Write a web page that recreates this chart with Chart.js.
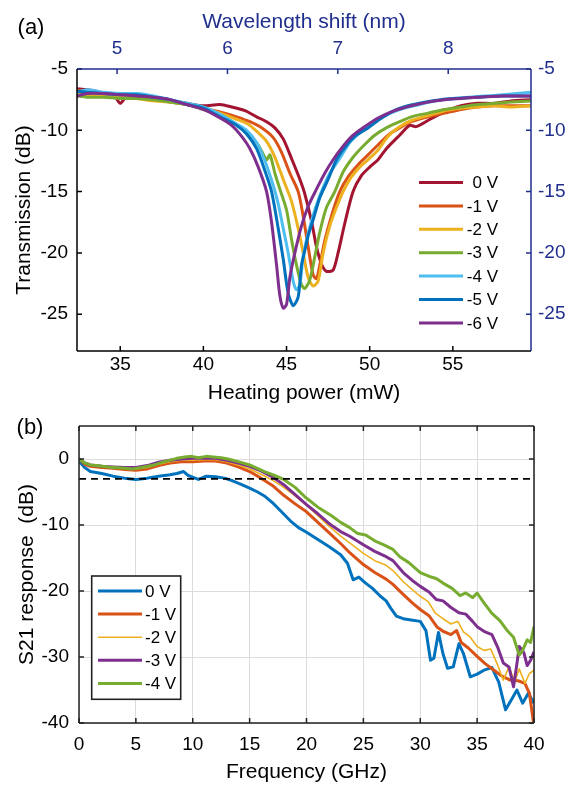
<!DOCTYPE html>
<html>
<head>
<meta charset="utf-8">
<script src="https://cdn.jsdelivr.net/npm/chart.js@4.4.1/dist/chart.umd.min.js"></script>
<style>
html, body { margin: 0; padding: 0; background: #fff; }
#wrap { position: relative; width: 578px; height: 786px; overflow: hidden; }
canvas { position: absolute; left: 0; }
#chartA { top: 0; }
#chartB { top: 400px; }
</style>
</head>
<body>
<div id="wrap">
<canvas id="chartA" width="578" height="410"></canvas>
<canvas id="chartB" width="578" height="386"></canvas>
</div>
<script>
// ---- panel (a): transmission vs heating power ----
const powerTicks = [35, 40, 45, 50, 55];
const shiftTicks = [5, 6, 7, 8];
const transTicks = [-5, -10, -15, -20, -25];
const biasA = ['0 V', '-1 V', '-2 V', '-3 V', '-4 V', '-5 V', '-6 V'];

// [heating power (mW), transmission (dB)]
const trans0V = [[32.4,-6.6],[33,-6.7],[33.5,-6.8],[34,-7.0],[34.6,-7.1],[35,-7.8],[35.4,-7.2],[36,-7.2],[37,-7.4],[38,-7.6],[39,-7.8],[40,-8.0],[41,-7.9],[41.7,-8.1],[42.5,-8.4],[43.2,-8.9],[43.8,-9.3],[44.3,-9.8],[44.8,-10.7],[45.3,-12.3],[45.8,-14.0],[46.1,-15.2],[46.5,-17.4],[46.8,-19.5],[47.1,-20.9],[47.4,-21.5],[47.8,-21.4],[48.1,-20.0],[48.5,-17.6],[49.0,-15.0],[49.5,-13.7],[50.0,-13.0],[50.5,-12.4],[51.0,-11.5],[51.5,-10.8],[51.8,-10.4],[52.4,-9.6],[52.8,-9.7],[53.5,-9.2],[54.5,-8.5],[55.5,-8.0],[56.5,-7.8],[57.5,-7.8],[58.5,-7.6],[59.7,-7.5]];
const trans1V = [[32.4,-6.7],[33,-6.9],[34,-7.2],[35,-7.3],[36,-7.3],[37,-7.5],[38,-7.7],[39,-7.9],[40,-8.2],[41,-8.5],[42,-8.9],[42.8,-9.3],[43.5,-9.8],[44.2,-10.6],[44.7,-11.8],[45.2,-13.5],[45.7,-15.0],[46.0,-17.0],[46.3,-19.5],[46.6,-21.8],[46.8,-22.1],[47.0,-21.0],[47.3,-19.0],[47.7,-17.0],[48.2,-15.0],[48.7,-13.8],[49.3,-12.8],[49.9,-12.0],[50.5,-11.2],[51.2,-10.3],[51.8,-9.8],[52.5,-9.3],[53.5,-8.9],[54.5,-8.6],[55.5,-8.3],[56.5,-8.1],[57.5,-8.0],[58.5,-8.0],[59.7,-8.0]];
const trans2V = [[32.4,-7.0],[33,-7.1],[34,-7.2],[35,-7.3],[36,-7.4],[37,-7.6],[38,-7.7],[39,-7.9],[40,-8.2],[41,-8.6],[42,-9.1],[42.7,-9.5],[43.3,-10.2],[43.8,-10.9],[44.3,-12.2],[44.8,-14.0],[45.3,-15.8],[45.7,-18.0],[46.0,-20.0],[46.3,-22.0],[46.6,-22.7],[46.9,-22.3],[47.2,-20.0],[47.6,-17.8],[48.0,-16.3],[48.4,-15.0],[48.9,-13.8],[49.4,-13.0],[49.9,-12.4],[50.5,-11.6],[51.1,-10.5],[51.7,-9.8],[52.5,-9.2],[53.5,-8.8],[54.5,-8.4],[55.5,-8.2],[56.5,-8.1],[57.5,-8.0],[58.5,-8.1],[59.7,-8.0]];
const trans3V = [[32.4,-7.2],[33,-7.3],[34,-7.3],[35,-7.4],[36,-7.4],[37,-7.5],[38,-7.7],[39,-7.9],[40,-8.3],[41,-8.8],[42,-9.5],[42.7,-10.3],[43.3,-11.2],[43.8,-12.4],[44.0,-12.0],[44.3,-13.5],[44.6,-14.8],[45.0,-16.5],[45.3,-18.9],[45.6,-21.0],[45.9,-22.6],[46.1,-22.9],[46.4,-22.2],[46.7,-20.3],[47.0,-18.3],[47.4,-16.3],[47.9,-15.0],[48.4,-13.4],[49.0,-12.2],[49.6,-11.3],[50.3,-10.4],[51.0,-9.8],[51.8,-9.3],[52.5,-8.9],[53.5,-8.6],[54.5,-8.3],[55.5,-8.1],[56.5,-7.9],[57.5,-7.8],[58.5,-7.7],[59.7,-7.6]];
const trans4V = [[32.4,-6.9],[33,-6.7],[34,-6.9],[35,-7.0],[36,-7.0],[37,-7.2],[38,-7.5],[39,-7.8],[40,-8.1],[41,-8.7],[42,-9.5],[42.6,-10.0],[43.2,-11.0],[43.7,-12.5],[44.2,-14.5],[44.5,-16.0],[44.8,-18.0],[45.1,-20.0],[45.4,-22.3],[45.6,-23.0],[45.8,-22.6],[46.0,-20.3],[46.3,-18.4],[46.7,-16.5],[47.1,-15.0],[47.6,-13.5],[48.2,-12.3],[48.8,-11.0],[49.4,-10.2],[50.0,-9.6],[50.8,-8.9],[51.8,-8.3],[53,-7.9],[54,-7.6],[55,-7.4],[56,-7.3],[57,-7.2],[58,-7.1],[59.7,-6.9]];
const trans5V = [[32.4,-6.8],[33,-6.9],[34,-7.0],[35,-7.1],[36,-7.1],[37,-7.3],[38,-7.5],[39,-7.9],[40,-8.2],[41,-8.9],[42,-9.6],[42.6,-10.3],[43.2,-11.5],[43.7,-13.3],[44.1,-15.0],[44.5,-18.0],[44.8,-20.5],[45.1,-23.3],[45.4,-24.3],[45.7,-23.6],[45.9,-21.0],[46.1,-19.8],[46.3,-18.6],[46.6,-17.3],[47.0,-15.5],[47.5,-14.0],[48.0,-12.4],[48.5,-11.4],[49.1,-10.5],[49.8,-9.9],[50.5,-9.2],[51.3,-8.5],[52.3,-8.0],[53.3,-7.7],[54.3,-7.5],[55.3,-7.4],[56.5,-7.3],[58,-7.2],[59.7,-7.2]];
const trans6V = [[32.4,-7.2],[33,-7.0],[34,-7.0],[35,-7.1],[36,-7.2],[37,-7.3],[38,-7.5],[39,-7.9],[40,-8.3],[41,-9.0],[41.7,-9.6],[42.3,-10.5],[42.8,-11.5],[43.3,-13.0],[43.8,-15.0],[44.1,-17.5],[44.4,-21.0],[44.6,-23.5],[44.8,-24.5],[45.0,-24.2],[45.2,-22.0],[45.5,-20.0],[45.9,-17.8],[46.3,-16.2],[46.8,-14.8],[47.3,-13.5],[47.8,-12.4],[48.4,-11.3],[49.0,-10.4],[49.7,-9.7],[50.5,-9.0],[51.5,-8.4],[52.5,-8.0],[53.5,-7.7],[54.5,-7.5],[55.5,-7.4],[56.5,-7.3],[58,-7.2],[59.7,-7.2]];
const seriesA = [trans0V, trans1V, trans2V, trans3V, trans4V, trans5V, trans6V];
const colorsA = ['#A2142F', '#D95319', '#EDB120', '#77AC30', '#4DBEEE', '#0072BD', '#7E2F8E'];

// ---- panel (b): S21 vs frequency ----
const freqTicks = [0, 5, 10, 15, 20, 25, 30, 35, 40];
const s21Ticks = [0, -10, -20, -30, -40];
const biasB = ['0 V', '-1 V', '-2 V', '-3 V', '-4 V'];
const thresholdDb = -3;

// [frequency (GHz), S21 (dB)]
const s21_0V = [[0,-0.3],[0.5,-1.3],[1,-1.9],[2,-2.2],[3,-2.6],[4,-2.9],[5,-3.1],[6,-2.9],[7,-2.6],[8,-2.4],[8.6,-2.2],[9.2,-1.9],[9.6,-2.5],[10.5,-3.1],[11.2,-2.6],[12,-2.7],[12.8,-2.9],[13.5,-3.3],[14.2,-3.8],[15,-4.4],[15.7,-5.0],[16.3,-5.6],[17,-6.6],[17.8,-8.0],[18.6,-9.4],[19.3,-10.4],[20,-11.1],[21,-12.2],[22,-13.3],[23,-14.5],[23.6,-15.8],[24.1,-18.3],[24.6,-17.9],[25.2,-18.8],[25.8,-19.6],[26.5,-20.8],[27,-21.5],[27.4,-22.6],[27.9,-23.8],[28.5,-24.2],[29.2,-24.4],[30,-24.6],[30.5,-26.0],[30.9,-30.5],[31.2,-30.2],[31.6,-26.3],[32,-29.5],[32.4,-31.7],[32.9,-31.5],[33.4,-28.0],[33.8,-29.5],[34.4,-33.0],[35,-32.6],[35.6,-32.0],[36.3,-31.6],[36.9,-33.8],[37.5,-38.0],[38,-36.5],[38.5,-35.0],[39,-37.0],[39.5,-35.5],[40,-37.0]];
const s21_1V = [[0,0],[0.5,-0.8],[1,-1.1],[2,-1.3],[3,-1.4],[4,-1.6],[5,-1.7],[6,-1.5],[7,-1.0],[8,-0.6],[9,-0.4],[10,-0.4],[11,-0.3],[12,-0.3],[13,-0.6],[14,-1.2],[15,-1.9],[16,-2.9],[17,-4.0],[18,-5.5],[19,-6.8],[20,-8.0],[21,-9.6],[22,-11.2],[23,-12.8],[23.8,-14.2],[25,-16.0],[26,-17.2],[27,-18.2],[27.6,-19.0],[28.5,-20.5],[29.3,-21.8],[30,-22.8],[30.8,-23.8],[31.5,-25.5],[32,-26.1],[32.7,-26.6],[33.2,-26.0],[33.6,-27.8],[34.2,-28.6],[35,-29.9],[35.7,-31.0],[36.4,-31.9],[37.1,-32.8],[37.9,-33.5],[38.6,-33.6],[39.2,-34.0],[39.6,-35.5],[40,-40.5]];
const s21_2V = [[0,0],[0.5,-0.7],[1,-1.0],[2,-1.2],[3,-1.3],[4,-1.4],[5,-1.5],[6,-1.3],[7,-0.8],[8,-0.4],[9,-0.2],[10,-0.2],[11,-0.1],[12,-0.1],[13,-0.4],[14,-0.9],[15,-1.5],[16,-2.3],[17,-3.2],[18,-4.3],[19,-5.6],[20,-7.0],[21,-8.6],[22,-10.2],[23,-11.7],[23.8,-12.7],[25,-14.3],[26,-15.4],[27,-16.1],[27.6,-16.9],[28.5,-18.6],[29.3,-19.8],[30,-20.8],[30.7,-21.6],[31.3,-23.3],[32,-24.2],[32.7,-25.0],[33.3,-24.6],[33.8,-26.2],[34.4,-27.0],[35,-28.4],[35.6,-29.0],[36.2,-28.8],[36.8,-31.2],[37.3,-33.5],[37.8,-31.5],[38.3,-33.8],[38.7,-31.8],[39.2,-34.0],[39.6,-32.5],[40,-32.0]];
const s21_3V = [[0,0],[0.5,-0.6],[1,-0.9],[2,-1.1],[3,-1.2],[4,-1.3],[5,-1.3],[6,-1.0],[7,-0.5],[8,-0.2],[9,0.0],[10,0.1],[11,0.1],[12,0.1],[13,-0.2],[14,-0.6],[15,-1.1],[16,-1.8],[17,-2.7],[18,-3.9],[19,-5.4],[20,-6.9],[21,-8.3],[22,-9.8],[23,-11.0],[23.8,-11.7],[25,-13.0],[26,-14.0],[27,-14.8],[27.6,-15.4],[28.5,-17.2],[29.3,-18.4],[30,-19.3],[30.8,-20.2],[31.4,-21.3],[32,-21.5],[32.7,-22.5],[33.4,-23.3],[34,-23.5],[34.6,-24.6],[35,-25.4],[35.7,-26.2],[36.3,-26.6],[36.8,-28.5],[37.3,-30.9],[37.8,-31.5],[38.2,-34.5],[38.5,-31.0],[38.7,-28.4],[39.1,-29.3],[39.4,-31.3],[39.7,-30.5],[40,-29.2]];
const s21_4V = [[0,0],[0.5,-0.6],[1,-0.9],[1.5,-1.0],[2.75,-1.25],[4,-1.4],[4.7,-1.5],[5.5,-1.3],[6.6,-0.9],[7.5,-0.4],[8.6,0.1],[9.3,0.3],[9.9,0.4],[10.5,0.2],[11.2,0.4],[11.8,0.3],[12.5,0.2],[13.1,0.0],[14,-0.4],[15,-0.9],[16.3,-1.9],[17.2,-2.5],[18,-3.1],[19,-4.3],[19.9,-5.8],[21,-7.3],[22.2,-8.6],[23,-9.6],[23.8,-10.4],[24.5,-11.3],[25.2,-11.5],[26,-12.4],[26.8,-13.0],[27.6,-13.7],[28.2,-14.8],[29,-15.7],[30,-17.2],[30.8,-17.8],[31.4,-18.1],[32,-18.8],[32.8,-19.6],[33.5,-20.7],[34,-20.3],[34.6,-21.0],[35,-20.3],[35.6,-21.8],[36.3,-23.4],[37,-24.5],[37.6,-25.9],[38.2,-27.0],[38.7,-29.7],[39,-29.0],[39.4,-27.4],[39.7,-27.8],[40,-25.4]];
const seriesB = [s21_0V, s21_1V, s21_2V, s21_3V, s21_4V];
const colorsB = ['#0072BD', '#D95319', '#EDB120', '#7E2F8E', '#77AC30'];
const widthsB = [3, 3, 1.6, 3, 3];

const NAVY = '#202f8e';
const FONT = "'Liberation Sans', Arial, sans-serif";
Chart.defaults.font.family = FONT;

const toXY = arr => arr.map(p => ({ x: p[0], y: p[1] }));
const fixTicks = list => (s => { s.ticks = list.map(v => ({ value: v })); });

// box + inward ticks, like a MATLAB axes
const frameTicks = {
  id: 'frameTicks',
  afterDatasetsDraw(chart, args, opts) {
    const { ctx, chartArea: a, scales } = chart;
    const len = 5;
    ctx.save();
    ctx.lineWidth = 1.5;
    opts.sides.forEach(sd => {
      ctx.strokeStyle = sd.color;
      ctx.beginPath();
      if (sd.edge === 'bottom') { ctx.moveTo(a.left, a.bottom); ctx.lineTo(a.right, a.bottom); }
      if (sd.edge === 'top') { ctx.moveTo(a.left, a.top); ctx.lineTo(a.right, a.top); }
      if (sd.edge === 'left') { ctx.moveTo(a.left, a.top); ctx.lineTo(a.left, a.bottom); }
      if (sd.edge === 'right') { ctx.moveTo(a.right, a.top); ctx.lineTo(a.right, a.bottom); }
      const sc = scales[sd.scale];
      sd.ticks.forEach(v => {
        const p = sc.getPixelForValue(v);
        if (sd.edge === 'bottom') { ctx.moveTo(p, a.bottom); ctx.lineTo(p, a.bottom - len); }
        if (sd.edge === 'top') { ctx.moveTo(p, a.top); ctx.lineTo(p, a.top + len); }
        if (sd.edge === 'left') { ctx.moveTo(a.left, p); ctx.lineTo(a.left + len, p); }
        if (sd.edge === 'right') { ctx.moveTo(a.right, p); ctx.lineTo(a.right - len, p); }
      });
      ctx.stroke();
    });
    ctx.restore();
  }
};

// hand placed legend + panel letter
const legendAndTag = {
  id: 'legendAndTag',
  afterDraw(chart, args, opts) {
    const ctx = chart.ctx;
    ctx.save();
    ctx.font = '22px ' + FONT;
    ctx.fillStyle = '#000';
    ctx.textAlign = 'center';
    ctx.textBaseline = 'middle';
    ctx.fillText(opts.tag, opts.tagX, opts.tagY);
    const L = opts.legend;
    if (L.box) {
      ctx.fillStyle = '#fff';
      ctx.fillRect(L.box[0], L.box[1], L.box[2], L.box[3]);
      ctx.strokeStyle = '#222';
      ctx.lineWidth = 1.6;
      ctx.strokeRect(L.box[0], L.box[1], L.box[2], L.box[3]);
    }
    ctx.font = '17px ' + FONT;
    ctx.textAlign = L.align;
    let row = 0;
    chart.data.datasets.forEach(ds => {
      if (!ds.inLegend) return;
      const y = L.y0 + row * L.dy;
      ctx.strokeStyle = ds.borderColor;
      ctx.lineWidth = ds.borderWidth;
      ctx.beginPath();
      ctx.moveTo(L.x0, y);
      ctx.lineTo(L.x0 + L.len, y);
      ctx.stroke();
      ctx.fillStyle = '#000';
      ctx.fillText(ds.label, L.tx, y + 1);
      row++;
    });
    ctx.restore();
  }
};

function tickStyle(color, pad) {
  return { color: color, font: { size: 19 }, padding: pad, maxRotation: 0, autoSkip: false, callback: v => String(v) };
}

var chart_a = new Chart(document.getElementById('chartA'), {
  type: 'line',
  data: {
    datasets: seriesA.map((s, i) => ({
      label: biasA[i],
      data: toXY(s),
      borderColor: colorsA[i],
      borderWidth: 3,
      pointRadius: 0,
      tension: 0.25,
      borderJoinStyle: 'round',
      inLegend: true,
      order: seriesA.length - i,
      xAxisID: 'x',
      yAxisID: 'y'
    }))
  },
  options: {
    responsive: false,
    devicePixelRatio: 1,
    animation: false,
    events: [],
    layout: { padding: 0 },
    plugins: {
      legend: { display: false },
      tooltip: { enabled: false },
      frameTicks: {
        sides: [
          { edge: 'bottom', scale: 'x', ticks: powerTicks, color: '#000' },
          { edge: 'left', scale: 'y', ticks: transTicks, color: '#000' },
          { edge: 'top', scale: 'xTop', ticks: shiftTicks, color: NAVY },
          { edge: 'right', scale: 'yRight', ticks: transTicks, color: NAVY }
        ]
      },
      legendAndTag: {
        tag: '(a)', tagX: 31, tagY: 28,
        legend: { x0: 419, len: 44, tx: 498, align: 'right', y0: 182.5, dy: 23.4 }
      }
    },
    scales: {
      x: {
        type: 'linear', position: 'bottom', min: 32.4, max: 59.7,
        afterBuildTicks: fixTicks(powerTicks),
        afterFit: s => { s.height = 59; },
        grid: { display: false, drawTicks: false },
        border: { display: false },
        ticks: tickStyle('#000', 2),
        title: { display: true, text: 'Heating power (mW)', color: '#000', font: { size: 21 }, padding: { top: 0, bottom: 4.4 } }
      },
      xTop: {
        type: 'linear', position: 'top', min: 4.637, max: 8.75,
        afterBuildTicks: fixTicks(shiftTicks),
        afterFit: s => { s.height = 69; },
        grid: { display: false, drawTicks: false },
        border: { display: false },
        ticks: tickStyle(NAVY, 8.6),
        title: { display: true, text: 'Wavelength shift (nm)', color: NAVY, font: { size: 21 }, padding: { top: 9.5, bottom: 0 } }
      },
      y: {
        type: 'linear', position: 'left', min: -28, max: -5,
        afterBuildTicks: fixTicks(transTicks),
        afterFit: s => { s.width = 77; },
        grid: { display: false, drawTicks: false },
        border: { display: false },
        ticks: tickStyle('#000', 9),
        title: { display: true, text: 'Transmission (dB)', color: '#000', font: { size: 21 }, padding: { top: 11.4, bottom: 0 } }
      },
      yRight: {
        type: 'linear', position: 'right', min: -28, max: -5,
        afterBuildTicks: fixTicks(transTicks),
        afterFit: s => { s.width = 47; },
        grid: { display: false, drawTicks: false },
        border: { display: false },
        ticks: tickStyle(NAVY, 7)
      }
    }
  },
  plugins: [frameTicks, legendAndTag]
});

const datasetsB = seriesB.map((s, i) => ({
  label: biasB[i],
  data: toXY(s),
  borderColor: colorsB[i],
  borderWidth: widthsB[i],
  pointRadius: 0,
  tension: 0,
  borderJoinStyle: 'round',
  inLegend: true,
  order: 10 - i
}));
datasetsB.push({
  label: '-3 dB',
  data: [{ x: freqTicks[0], y: thresholdDb }, { x: freqTicks[freqTicks.length - 1], y: thresholdDb }],
  borderColor: '#000',
  borderWidth: 1.8,
  borderDash: [7, 5],
  pointRadius: 0,
  inLegend: false,
  order: 0
});

var chart_b = new Chart(document.getElementById('chartB'), {
  type: 'line',
  data: { datasets: datasetsB },
  options: {
    responsive: false,
    devicePixelRatio: 1,
    animation: false,
    events: [],
    layout: { padding: 0 },
    plugins: {
      legend: { display: false },
      tooltip: { enabled: false },
      frameTicks: {
        sides: [
          { edge: 'bottom', scale: 'x', ticks: freqTicks, color: '#222' },
          { edge: 'top', scale: 'x', ticks: freqTicks, color: '#222' },
          { edge: 'left', scale: 'y', ticks: s21Ticks, color: '#222' },
          { edge: 'right', scale: 'y', ticks: s21Ticks, color: '#222' }
        ]
      },
      legendAndTag: {
        tag: '(b)', tagX: 30, tagY: 28,
        legend: { box: [91.7, 176, 89, 123.3], x0: 98, len: 44, tx: 145, align: 'left', y0: 191, dy: 23.1 }
      }
    },
    scales: {
      x: {
        type: 'linear', position: 'bottom', min: 0, max: 40,
        afterBuildTicks: fixTicks(freqTicks),
        afterFit: s => { s.height = 63; },
        grid: { display: true, drawTicks: false, color: '#dcdcdc', lineWidth: 1 },
        border: { display: false },
        ticks: tickStyle('#000', 10.6),
        title: { display: true, text: 'Frequency (GHz)', color: '#000', font: { size: 21 }, padding: { top: 0, bottom: 1.4 } }
      },
      xTop: {
        type: 'linear', position: 'top', min: 0, max: 40,
        afterFit: s => { s.height = 26; },
        grid: { display: false, drawTicks: false },
        border: { display: false },
        ticks: { display: false }
      },
      y: {
        type: 'linear', position: 'left', min: -40, max: 5,
        afterBuildTicks: fixTicks(s21Ticks),
        afterFit: s => { s.width = 79; },
        grid: { display: true, drawTicks: false, color: '#dcdcdc', lineWidth: 1 },
        border: { display: false },
        ticks: tickStyle('#000', 10),
        title: { display: true, text: 'S21 response  (dB)', color: '#000', font: { size: 21 }, padding: { top: 15, bottom: 0 } }
      },
      yRight: {
        type: 'linear', position: 'right', min: -40, max: 5,
        afterFit: s => { s.width = 44; },
        grid: { display: false, drawTicks: false },
        border: { display: false },
        ticks: { display: false }
      }
    }
  },
  plugins: [frameTicks, legendAndTag]
});
</script>
</body>
</html>
